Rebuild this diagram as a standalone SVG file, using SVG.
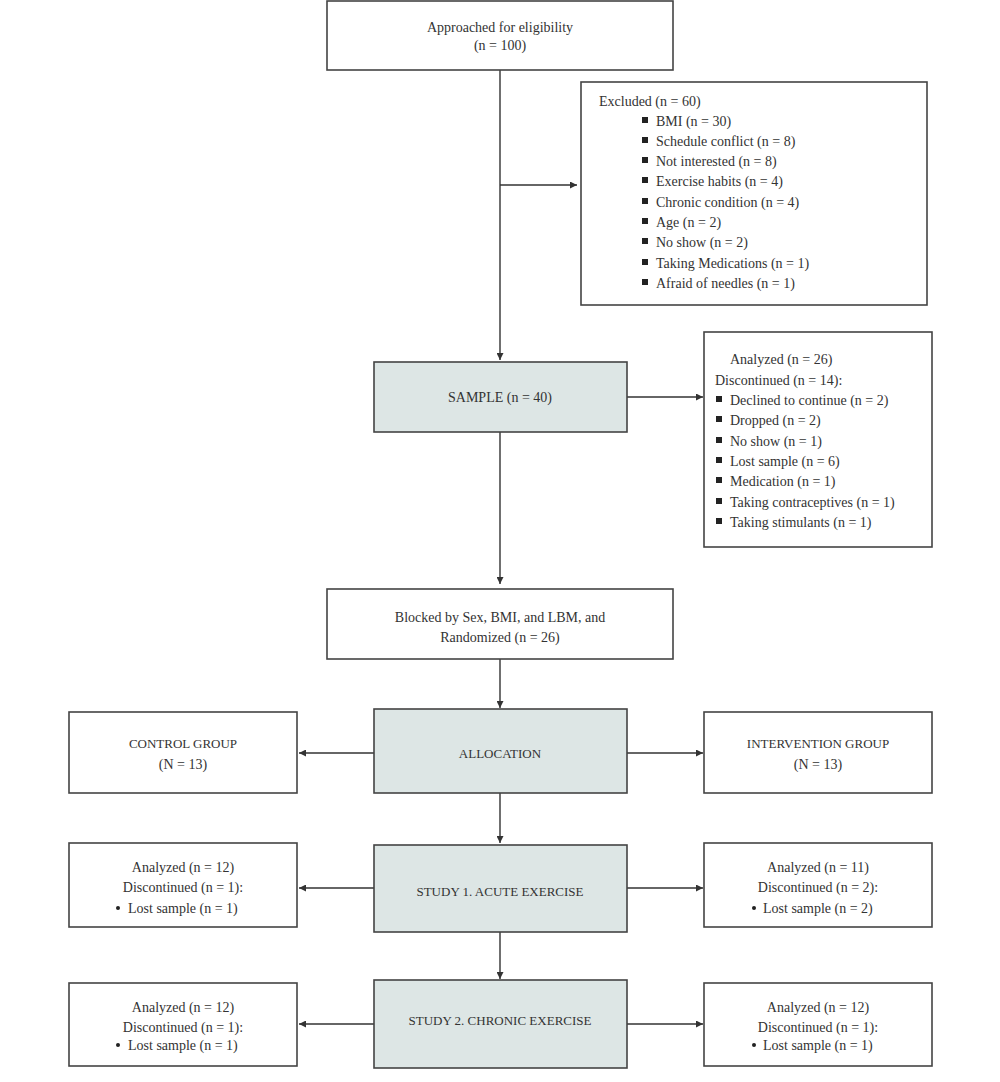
<svg xmlns="http://www.w3.org/2000/svg" width="1000" height="1082" viewBox="0 0 1000 1082">
<defs>
<marker id="ah" viewBox="0 0 10 10" refX="10" refY="5" markerWidth="7" markerHeight="7" orient="auto" markerUnits="userSpaceOnUse">
<path d="M0,0 L10,5 L0,10 z" fill="#333"/>
</marker>
</defs>
<style>
.box{fill:#fff;stroke:#444;stroke-width:1.6}
.gbox{fill:#dde6e5;stroke:#444;stroke-width:1.6}
text{font-family:"Liberation Serif","DejaVu Serif",serif;font-size:14px;fill:#333}
.c{text-anchor:middle}
.sm{font-size:13px}
.line{stroke:#333;stroke-width:1.4;fill:none}
.bul{fill:#222}
</style>
<rect width="1000" height="1082" fill="#fff"/>
<g id="connectors">
<line class="line" x1="500" y1="70" x2="500" y2="360" marker-end="url(#ah)"/>
<line class="line" x1="500" y1="185" x2="577" y2="185" marker-end="url(#ah)"/>
<line class="line" x1="627" y1="397" x2="703" y2="397" marker-end="url(#ah)"/>
<line class="line" x1="500" y1="432" x2="500" y2="584" marker-end="url(#ah)"/>
<line class="line" x1="500" y1="659" x2="500" y2="708" marker-end="url(#ah)"/>
<line class="line" x1="374" y1="753" x2="299" y2="753" marker-end="url(#ah)"/>
<line class="line" x1="627" y1="753" x2="703" y2="753" marker-end="url(#ah)"/>
<line class="line" x1="500" y1="793" x2="500" y2="843" marker-end="url(#ah)"/>
<line class="line" x1="374" y1="888" x2="299" y2="888" marker-end="url(#ah)"/>
<line class="line" x1="627" y1="888" x2="703" y2="888" marker-end="url(#ah)"/>
<line class="line" x1="500" y1="932" x2="500" y2="979" marker-end="url(#ah)"/>
<line class="line" x1="374" y1="1024" x2="299" y2="1024" marker-end="url(#ah)"/>
<line class="line" x1="627" y1="1024" x2="703" y2="1024" marker-end="url(#ah)"/>
</g>
<g id="approached">
<rect class="box" x="327" y="1" width="346" height="69"/>
<text class="c" x="500" y="32">Approached for eligibility</text>
<text class="c" x="500" y="50">(n = 100)</text>
</g>
<g id="excluded">
<rect class="box" x="581" y="82" width="346" height="223"/>
<text x="599" y="106">Excluded (n = 60)</text>
<g class="bul">
<rect x="642" y="117" width="6" height="6"/>
<rect x="642" y="137" width="6" height="6"/>
<rect x="642" y="157" width="6" height="6"/>
<rect x="642" y="177" width="6" height="6"/>
<rect x="642" y="198" width="6" height="6"/>
<rect x="642" y="218" width="6" height="6"/>
<rect x="642" y="238" width="6" height="6"/>
<rect x="642" y="259" width="6" height="6"/>
<rect x="642" y="279" width="6" height="6"/>
</g>
<text x="656" y="126">BMI (n = 30)</text>
<text x="656" y="146">Schedule conflict (n = 8)</text>
<text x="656" y="166">Not interested (n = 8)</text>
<text x="656" y="186">Exercise habits (n = 4)</text>
<text x="656" y="207">Chronic condition (n = 4)</text>
<text x="656" y="227">Age (n = 2)</text>
<text x="656" y="247">No show (n = 2)</text>
<text x="656" y="268">Taking Medications (n = 1)</text>
<text x="656" y="288">Afraid of needles (n = 1)</text>
</g>
<g id="sample">
<rect class="gbox" x="374" y="362" width="253" height="70"/>
<text class="c" x="500" y="402">SAMPLE (n = 40)</text>
</g>
<g id="discontinued">
<rect class="box" x="704" y="332" width="228" height="215"/>
<text x="730" y="364">Analyzed (n = 26)</text>
<text x="715" y="385">Discontinued (n = 14):</text>
<g class="bul">
<rect x="716" y="396" width="6" height="6"/>
<rect x="716" y="416" width="6" height="6"/>
<rect x="716" y="437" width="6" height="6"/>
<rect x="716" y="457" width="6" height="6"/>
<rect x="716" y="477" width="6" height="6"/>
<rect x="716" y="498" width="6" height="6"/>
<rect x="716" y="518" width="6" height="6"/>
</g>
<text x="730" y="405">Declined to continue (n = 2)</text>
<text x="730" y="425">Dropped (n = 2)</text>
<text x="730" y="446">No show (n = 1)</text>
<text x="730" y="466">Lost sample (n = 6)</text>
<text x="730" y="486">Medication (n = 1)</text>
<text x="730" y="507">Taking contraceptives (n = 1)</text>
<text x="730" y="527">Taking stimulants (n = 1)</text>
</g>
<g id="blocked">
<rect class="box" x="327" y="589" width="346" height="70"/>
<text class="c" x="500" y="622">Blocked by Sex, BMI, and LBM, and</text>
<text class="c" x="500" y="642">Randomized (n = 26)</text>
</g>
<g id="allocation">
<rect class="gbox" x="374" y="709" width="253" height="84"/>
<text class="c sm" x="500" y="758">ALLOCATION</text>
</g>
<g id="control">
<rect class="box" x="69" y="712" width="228" height="81"/>
<text class="c sm" x="183" y="748">CONTROL GROUP</text>
<text class="c" x="183" y="769">(N = 13)</text>
</g>
<g id="intervention">
<rect class="box" x="704" y="712" width="228" height="81"/>
<text class="c sm" x="818" y="748">INTERVENTION GROUP</text>
<text class="c" x="818" y="769">(N = 13)</text>
</g>
<g id="study1">
<rect class="gbox" x="374" y="845" width="253" height="87"/>
<text class="c sm" x="500" y="896">STUDY 1. ACUTE EXERCISE</text>
</g>
<g id="s1-control">
<rect class="box" x="69" y="843" width="228" height="84"/>
<text class="c" x="183" y="872">Analyzed (n = 12)</text>
<text class="c" x="183" y="892">Discontinued (n = 1):</text>
<circle class="bul" cx="118" cy="908" r="2"/>
<text x="128" y="913">Lost sample (n = 1)</text>
</g>
<g id="s1-intervention">
<rect class="box" x="704" y="843" width="228" height="84"/>
<text class="c" x="818" y="872">Analyzed (n = 11)</text>
<text class="c" x="818" y="892">Discontinued (n = 2):</text>
<circle class="bul" cx="754" cy="908" r="2"/>
<text x="763" y="913">Lost sample (n = 2)</text>
</g>
<g id="study2">
<rect class="gbox" x="374" y="980" width="253" height="88"/>
<text class="c sm" x="500" y="1025">STUDY 2. CHRONIC EXERCISE</text>
</g>
<g id="s2-control">
<rect class="box" x="69" y="983" width="228" height="83"/>
<text class="c" x="183" y="1012">Analyzed (n = 12)</text>
<text class="c" x="183" y="1032">Discontinued (n = 1):</text>
<circle class="bul" cx="118" cy="1045" r="2"/>
<text x="128" y="1050">Lost sample (n = 1)</text>
</g>
<g id="s2-intervention">
<rect class="box" x="704" y="983" width="228" height="83"/>
<text class="c" x="818" y="1012">Analyzed (n = 12)</text>
<text class="c" x="818" y="1032">Discontinued (n = 1):</text>
<circle class="bul" cx="754" cy="1045" r="2"/>
<text x="763" y="1050">Lost sample (n = 1)</text>
</g>
</svg>
